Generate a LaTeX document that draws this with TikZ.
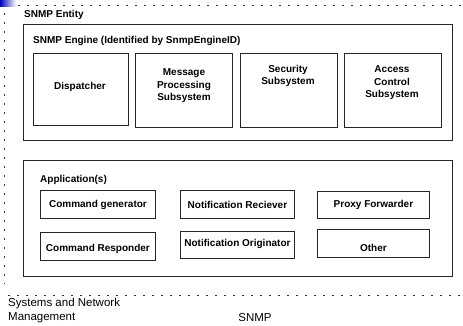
\documentclass[tikz,border=0pt]{standalone}
\usepackage{fontspec}
\setmainfont{Liberation Sans}
\tikzset{
  unit/.style={draw=black!85, line width=0.9pt, inner sep=0pt, anchor=north west},
  frame/.style={draw=black!85, line width=0.9pt, inner sep=0pt, anchor=north west},
  txt/.style={font=\bfseries\fontsize{10}{12.5}\selectfont, align=center, inner sep=0pt},
  heading/.style={font=\bfseries\fontsize{10}{12}\selectfont, anchor=west, inner sep=0pt},
  border/.style={black!80, line width=0.8pt, dash pattern=on 1.6pt off 7.4pt},
}
\begin{document}
\begin{tikzpicture}[x=1pt, y=-1pt]
  \useasboundingbox (0,0) rectangle (463,326);
  % corner decoration
  \shade[left color=blue!75!black, right color=white] (0,0) rectangle (16,7);

  % dotted outline of the entity
  \coordinate (tl) at (18,5);
  \coordinate (tr) at (462,5);
  \coordinate (lt) at (4,13);
  \coordinate (lb) at (4,284);
  \coordinate (bl) at (8,295);
  \coordinate (br) at (462,295);
  \draw[border] (tl) -- (tr);
  \draw[border] (lt) -- (lb);
  \draw[border] (bl) -- (br);
  \node[heading] (entity) at (24,15) {SNMP Entity};

  % engine and its subsystems
  \node[frame, minimum width=429pt, minimum height=116pt] (engine) at (23,24) {};
  \node[heading] (enginelbl) at (33,41) {SNMP Engine (Identified by SnmpEngineID)};
  \node[unit, minimum width=95pt, minimum height=72pt] (disp) at (33,53) {};
  \node[unit, minimum width=97pt, minimum height=74pt] (msg) at (135,53) {};
  \node[unit, minimum width=97pt, minimum height=74pt] (sec) at (240,53) {};
  \node[unit, minimum width=97pt, minimum height=74pt] (acs) at (344,53) {};
  \node[txt] (disptxt) at (80,87) {Dispatcher};
  \node[txt] (msgtxt) at (184,86) {Message\\Processing\\Subsystem};
  \node[txt] (sectxt) at (288,76) {Security\\Subsystem};
  \node[txt] (acstxt) at (392,83) {Access\\Control\\Subsystem};

  % applications
  \node[frame, minimum width=429pt, minimum height=116pt] (apps) at (23,160) {};
  \node[heading] (appslbl) at (40,180) {Application(s)};
  \node[unit, minimum width=115pt, minimum height=28pt] (cgen) at (40,190) {};
  \node[unit, minimum width=115pt, minimum height=28pt] (cresp) at (40,232) {};
  \node[unit, minimum width=114pt, minimum height=28pt] (nrec) at (180,190) {};
  \node[unit, minimum width=114pt, minimum height=27pt] (norig) at (180,231) {};
  \node[unit, minimum width=112pt, minimum height=27pt] (proxy) at (317,191) {};
  \node[unit, minimum width=112pt, minimum height=28pt] (other) at (317,229) {};
  \node[txt] at (cgen.center) {Command generator};
  \node[txt] at ([yshift=-2pt]cresp.center) {Command Responder};
  \node[txt] at (nrec.center) {Notification Reciever};
  \node[txt] at ([yshift=1pt]norig.center) {Notification Originator};
  \node[txt] at (proxy.center) {Proxy Forwarder};
  \node[txt] at ([yshift=-4pt]other.center) {Other};

  % footer
  \node[font=\fontsize{11.5}{14}\selectfont, align=left, anchor=north west, inner sep=0pt] (foot) at (8,298) {Systems and Network\\Management};
  \node[font=\fontsize{11.5}{14}\selectfont, inner sep=0pt] (snmp) at (255,318) {SNMP};
\end{tikzpicture}
\end{document}
